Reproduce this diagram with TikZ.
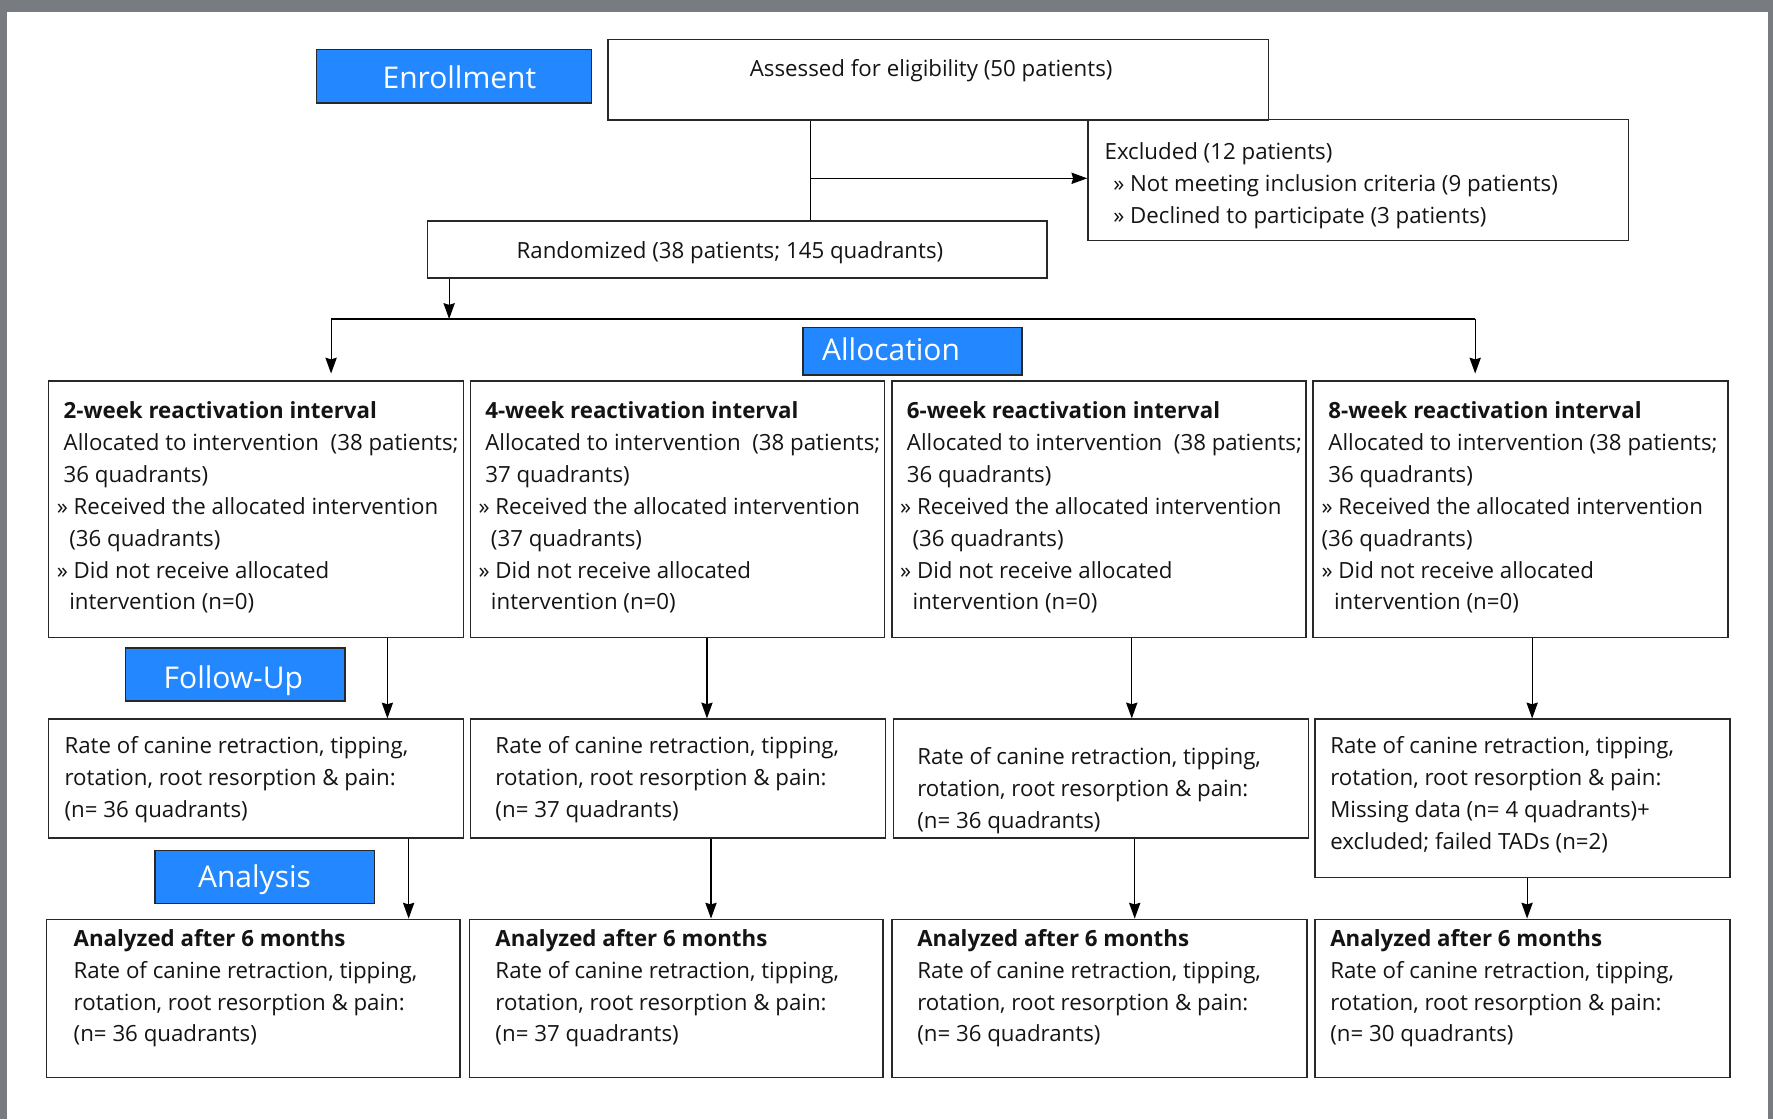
\documentclass[tikz,border=0pt]{standalone}
\usepackage{fontspec}
\setmainfont{Open Sans}
\usetikzlibrary{arrows.meta}
\definecolor{bgray}{RGB}{120,123,127}
\definecolor{lblue}{RGB}{35,136,255}
\definecolor{edgec}{RGB}{40,40,40}
\definecolor{inkc}{RGB}{20,20,20}
\tikzset{
  box/.style={draw=edgec, line width=1.3pt, fill=white, inner sep=0pt},
  lbox/.style={draw=edgec, line width=1.3pt, fill=lblue, inner sep=0pt},
  txt/.style={inner sep=0pt, anchor=north west, align=left, text=inkc,
    font=\fontsize{19.7pt}{28.2pt}\selectfont},
  ctxt/.style={inner sep=0pt, anchor=base, text=inkc,
    font=\fontsize{19.7pt}{28.2pt}\selectfont},
  ltxt/.style={inner sep=0pt, anchor=base, text=white,
    font=\fontsize{26.5pt}{30pt}\selectfont},
  conn/.style={draw=black, line width=1pt},
  arr/.style={conn, -{Stealth[length=14pt,width=10pt,inset=1.5pt]}}
}
\newcommand{\fl}{\rule{0pt}{20pt}}
\begin{document}
\begin{tikzpicture}[x=1pt,y=-1pt]
\useasboundingbox (0,0) rectangle (1568,990);
\fill[bgray] (0,0) rectangle (1568,990);
\fill[white] (6.5,10.8) rectangle (1563.8,990);

% ---------- enrollment ----------
\node[box, minimum width=478pt, minimum height=107pt] (excl) at (1201.2,159.3) {};
\node[box, minimum width=584pt, minimum height=71pt] (assess) at (829.9,70.5) {};
\node[box, minimum width=548pt, minimum height=50.5pt] (rand) at (652,220.7) {};
\node[lbox, minimum width=243pt, minimum height=47pt] (lenr) at (401.5,67.5) {};
\node[lbox, minimum width=193.8pt, minimum height=42.2pt] (lalloc) at (806.9,310.6) {};
\node[lbox, minimum width=194pt, minimum height=47pt] (lfollow) at (208,596.5) {};
\node[lbox, minimum width=194pt, minimum height=47pt] (lanal) at (234,775.5) {};

\node[ltxt] (tenr) at (406.3,78.1) {Enrollment};
\node[ltxt, anchor=base west] (talloc) at (726.9,318.6) {Allocation};
\node[ltxt] (tfollow) at (206.4,608.7) {Follow-Up};
\node[ltxt] (tanal) at (225.1,785.2) {Analysis};

\node[ctxt] (tassess) at (823.5,67.4) {Assessed for eligibility (50 patients)};
\node[ctxt] (trand) at (645.5,228.5) {Randomized (38 patients; 145 quadrants)};
\node[txt] (texcl) at (976.7,120.9) {\fl Excluded (12 patients)\\
\hspace*{7.7pt}» Not meeting inclusion criteria (9 patients)\\
\hspace*{7.7pt}» Declined to participate (3 patients)};

% ---------- allocation row ----------
\node[box, minimum width=367pt, minimum height=227pt] (a1) at (226.5,450.5) {};
\node[box, minimum width=366pt, minimum height=227pt] (a2) at (599,450.5) {};
\node[box, minimum width=366pt, minimum height=227pt] (a3) at (972,450.5) {};
\node[box, minimum width=367pt, minimum height=227pt] (a4) at (1344.5,450.5) {};

\node[txt] (ta1) at (50.1,350) {\fl\hspace*{6pt}\textbf{2-week reactivation interval}\\
\hspace*{6pt}Allocated to intervention\ \ (38 patients;\\
\hspace*{6pt}36 quadrants)\\
» Received the allocated intervention\\
\hspace*{11pt}(36 quadrants)\\
» Did not receive allocated\\
\hspace*{11pt}intervention (n=0)};
\node[txt] (ta2) at (423,350) {\fl\hspace*{6pt}\textbf{4-week reactivation interval}\\
\hspace*{6pt}Allocated to intervention\ \ (38 patients;\\
\hspace*{6pt}37 quadrants)\\
» Received the allocated intervention\\
\hspace*{11pt}(37 quadrants)\\
» Did not receive allocated\\
\hspace*{11pt}intervention (n=0)};
\node[txt] (ta3) at (795.9,350) {\fl\hspace*{6pt}\textbf{6-week reactivation interval}\\
\hspace*{6pt}Allocated to intervention\ \ (38 patients;\\
\hspace*{6pt}36 quadrants)\\
» Received the allocated intervention\\
\hspace*{11pt}(36 quadrants)\\
» Did not receive allocated\\
\hspace*{11pt}intervention (n=0)};
\node[txt] (ta4) at (1168.6,350) {\fl\hspace*{6pt}\textbf{8-week reactivation interval}\\
\hspace*{6pt}Allocated to intervention (38 patients;\\
\hspace*{6pt}36 quadrants)\\
» Received the allocated intervention\\
(36 quadrants)\\
» Did not receive allocated\\
\hspace*{11pt}intervention (n=0)};

% ---------- follow-up row ----------
\node[box, minimum width=367pt, minimum height=105pt] (b1) at (226.5,688.5) {};
\node[box, minimum width=367pt, minimum height=105pt] (b2) at (599.5,688.5) {};
\node[box, minimum width=367pt, minimum height=105pt] (b3) at (973.5,688.5) {};
\node[box, minimum width=367pt, minimum height=140pt] (b4) at (1346.5,706) {};

\node[txt] (tb1) at (56.9,646.2) {\fl Rate of canine retraction, tipping,\\
rotation, root resorption \& pain:\\
(n= 36 quadrants)};
\node[txt] (tb2) at (438,646.2) {\fl Rate of canine retraction, tipping,\\
rotation, root resorption \& pain:\\
(n= 37 quadrants)};
\node[txt] (tb3) at (811,655.7) {\fl Rate of canine retraction, tipping,\\
rotation, root resorption \& pain:\\
(n= 36 quadrants)};
\node[txt] (tb4) at (1176.3,646.2) {\fl Rate of canine retraction, tipping,\\
rotation, root resorption \& pain:\\
Missing data (n= 4 quadrants)+\\
excluded; failed TADs (n=2)};

% ---------- analysis row ----------
\node[box, minimum width=366pt, minimum height=140pt] (c1) at (224,883) {};
\node[box, minimum width=366pt, minimum height=140pt] (c2) at (598,883) {};
\node[box, minimum width=367pt, minimum height=140pt] (c3) at (972.5,883) {};
\node[box, minimum width=367pt, minimum height=140pt] (c4) at (1346.5,883) {};

\node[txt] (tc1) at (65,816.7) {\fl\textbf{Analyzed after 6 months}\\
Rate of canine retraction, tipping,\\
rotation, root resorption \& pain:\\
(n= 36 quadrants)};
\node[txt] (tc2) at (438,816.7) {\fl\textbf{Analyzed after 6 months}\\
Rate of canine retraction, tipping,\\
rotation, root resorption \& pain:\\
(n= 37 quadrants)};
\node[txt] (tc3) at (811,816.7) {\fl\textbf{Analyzed after 6 months}\\
Rate of canine retraction, tipping,\\
rotation, root resorption \& pain:\\
(n= 36 quadrants)};
\node[txt] (tc4) at (1176.3,816.7) {\fl\textbf{Analyzed after 6 months}\\
Rate of canine retraction, tipping,\\
rotation, root resorption \& pain:\\
(n= 30 quadrants)};

% ---------- connectors ----------
\coordinate (split) at (717,157.7);
\draw[conn] (assess.south -| split) -- (rand.north -| split);
\draw[arr] (split) -- (excl.west |- split);
\coordinate (rj) at (397.2,282.1);
\draw[arr] (rand.south -| rj) -- (rj);
\coordinate (hl) at (292.8,282.1);
\coordinate (hr) at (1304.6,282.1);
\draw[conn] (hl) -- (hr);
\draw[arr, shorten >=6pt] (hl) -- (a1.north -| hl);
\draw[arr, shorten >=6pt] (hr) -- (a4.north -| hr);

\coordinate (p1) at (342.6,600);
\coordinate (p2) at (625.2,600);
\coordinate (p3) at (1000.9,600);
\coordinate (p4) at (1355,600);
\draw[arr] (a1.south -| p1) -- (b1.north -| p1);
\draw[arr] (a2.south -| p2) -- (b2.north -| p2);
\draw[arr] (a3.south -| p3) -- (b3.north -| p3);
\draw[arr] (a4.south -| p4) -- (b4.north -| p4);

\coordinate (q1) at (361.4,790);
\coordinate (q2) at (628.8,790);
\coordinate (q3) at (1003.5,790);
\coordinate (q4) at (1350.5,790);
\draw[arr] (b1.south -| q1) -- (c1.north -| q1);
\draw[arr] (b2.south -| q2) -- (c2.north -| q2);
\draw[arr] (b3.south -| q3) -- (c3.north -| q3);
\draw[arr] (b4.south -| q4) -- (c4.north -| q4);
\end{tikzpicture}
\end{document}
